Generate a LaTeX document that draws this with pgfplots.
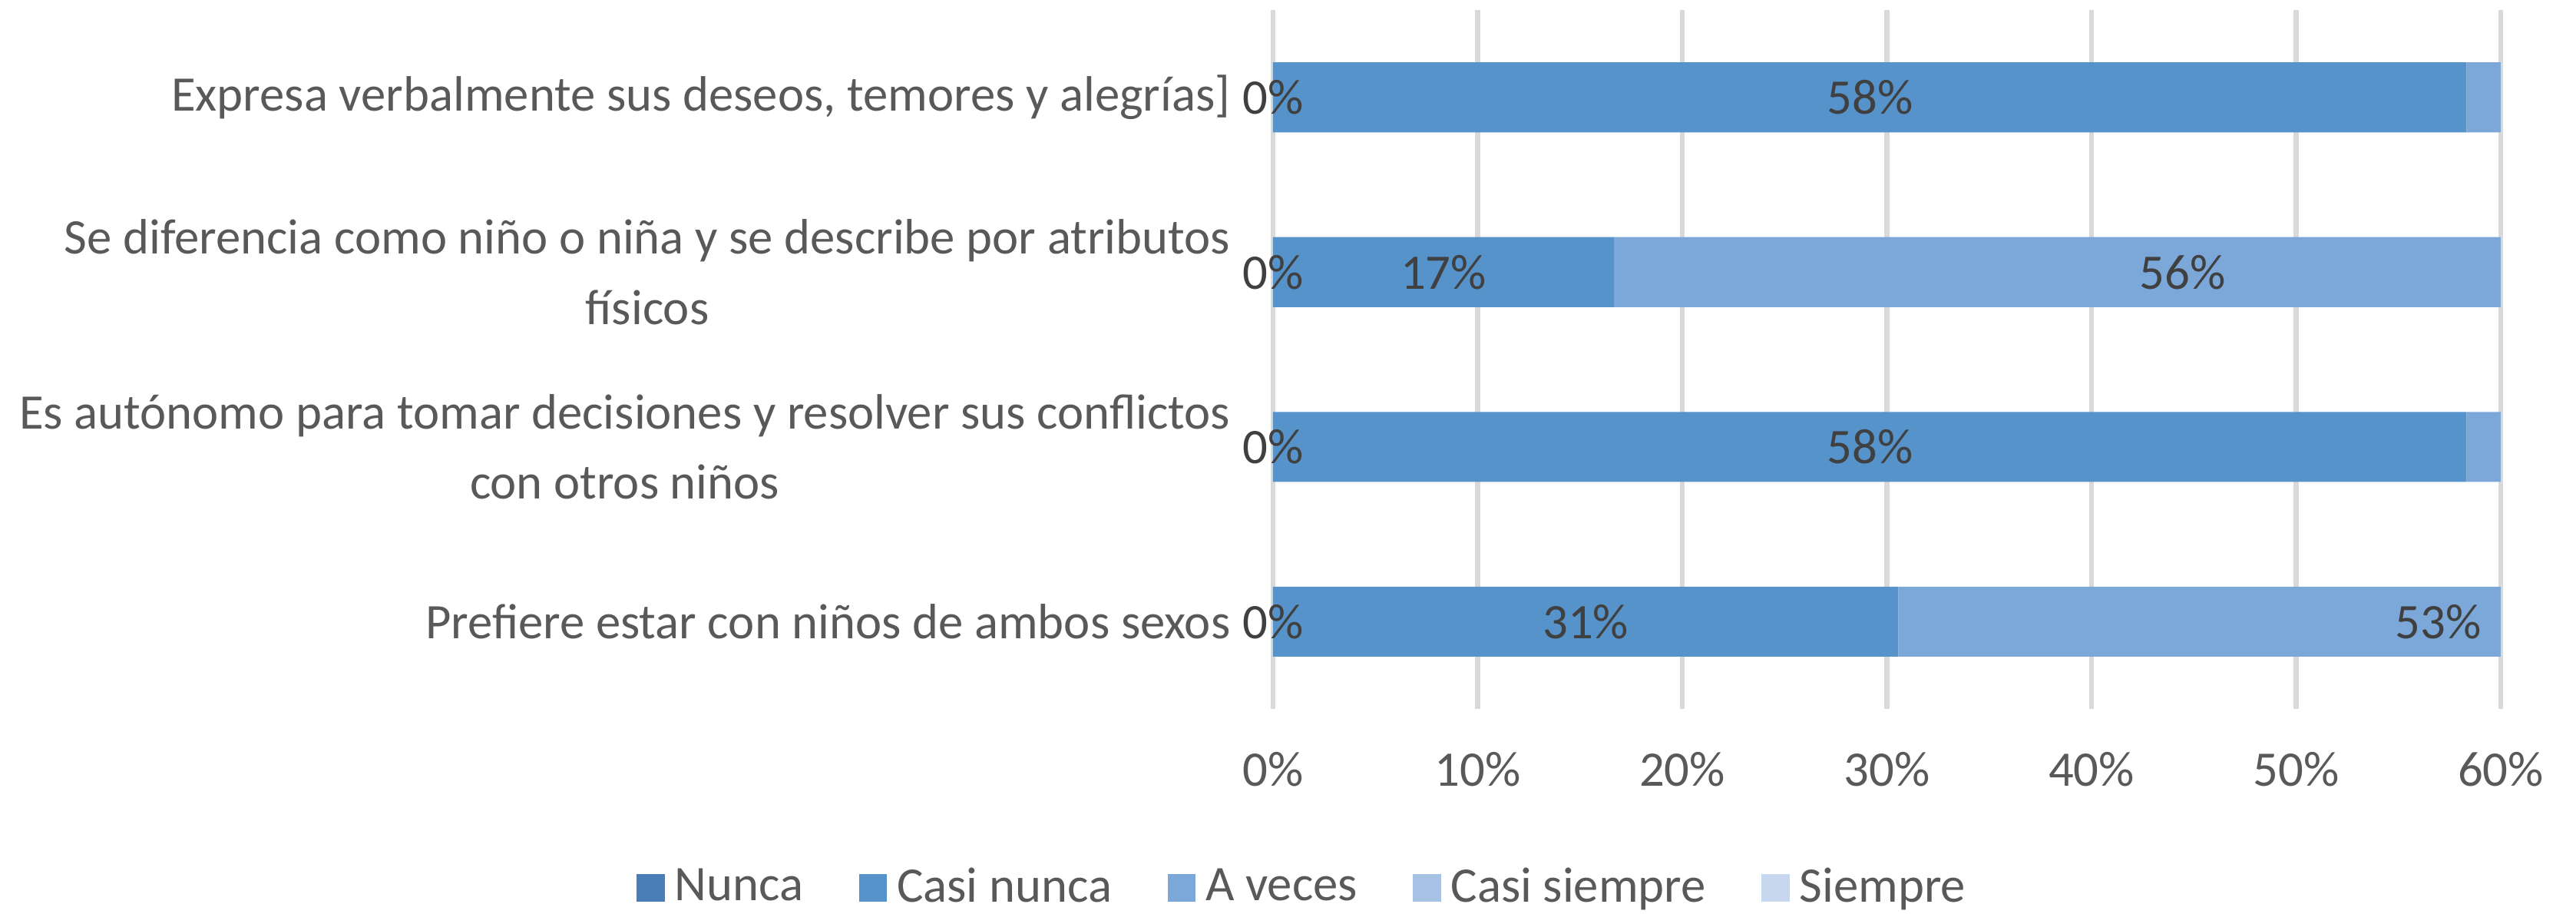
\documentclass[border=0pt]{standalone}
\usepackage{pgfplots}
\pgfplotsset{compat=1.18}
\usepackage{fontspec}
\setmainfont{Carlito}
\definecolor{cNunca}{HTML}{4A7EB6}
\definecolor{cCasiNunca}{HTML}{5693CA}
\definecolor{cAVeces}{HTML}{7BA8D8}
\definecolor{cCasiSiempre}{HTML}{A7C2E4}
\definecolor{cSiempre}{HTML}{C6D7EE}
\definecolor{tickgray}{HTML}{595959}
\definecolor{labgray}{HTML}{404040}
\definecolor{gridgray}{HTML}{D9D9D9}
\newcommand\fs{\fontsize{11.65}{16.5}\selectfont}
\begin{document}
\begin{tikzpicture}
\pgfplotsset{
  common/.style={width=287.8pt, height=163.8pt, scale only axis,
    xmin=0, xmax=60, ymin=-0.5, ymax=3.5},
}
\begin{axis}[common,
  xbar stacked, bar width=16.4pt,
  axis line style={draw=none},
  xtick={0,10,...,60},
  xticklabels={0\%,10\%,20\%,30\%,40\%,50\%,60\%},
  ytick={0,1,2,3},
  yticklabels={{Prefiere estar con niños de ambos sexos},
    {Es autónomo para tomar decisiones y resolver sus conflictos\\con otros niños},
    {Se diferencia como niño o niña y se describe por atributos\\físicos},
    {Expresa verbalmente sus deseos, temores y alegrías]}},
  major tick length=0pt,
  xmajorgrids, grid style={gridgray, line width=1.2pt},
  xticklabel style={font=\fs, text=tickgray, anchor=base, inner sep=0pt, yshift=-18.1pt},
  yticklabel style={font=\fs, text=tickgray, anchor=east, align=center, inner sep=0pt, xshift=-9.8pt},
  legend style={at={(0.027,-0.256)}, anchor=center, draw=none, font=\fs, text=tickgray,
    legend columns=-1, inner sep=0pt,
    nodes={inner sep=2.3pt},
    /tikz/every even column/.append style={column sep=10.7pt}},
  legend image code/.code={\fill[#1] (0pt,-3.3pt) rectangle (6.6pt,3.3pt);},
]
\addplot[fill=cNunca, draw=none] coordinates {(0,0) (0,1) (0,2) (0,3)};
\addlegendentry{Nunca}
\addplot[fill=cCasiNunca, draw=none] coordinates {(30.56,0) (58.33,1) (16.67,2) (58.33,3)};
\addlegendentry{Casi nunca}
\addplot[fill=cAVeces, draw=none] coordinates {(52.78,0) (41.67,1) (55.56,2) (41.67,3)};
\addlegendentry{A veces}
\addplot[fill=cCasiSiempre, draw=none] coordinates {(16.67,0) (0,1) (27.78,2) (0,3)};
\addlegendentry{Casi siempre}
\addplot[fill=cSiempre, draw=none] coordinates {(0,0) (0,1) (0,2) (0,3)};
\addlegendentry{Siempre}
\end{axis}
\begin{axis}[common, hide axis, clip=false]
\addplot[draw=none, mark=none, nodes near coords, point meta=explicit symbolic,
  nodes near coords align=center,
  every node near coord/.append style={font=\fs, text=labgray, inner sep=0pt, anchor=center}]
  coordinates {
  (0,0) [0\%] (0,1) [0\%] (0,2) [0\%] (0,3) [0\%]
  (15.28,0) [31\%] (29.17,1) [58\%] (8.33,2) [17\%] (29.17,3) [58\%]
  (56.94,0) [53\%] (44.44,2) [56\%]
  };
\end{axis}
\pgfresetboundingbox
\path ([xshift=-298.4pt,yshift=-47.88pt]current axis.south west) rectangle ([xshift=17.64pt,yshift=2.34pt]current axis.north east);
\end{tikzpicture}
\end{document}
